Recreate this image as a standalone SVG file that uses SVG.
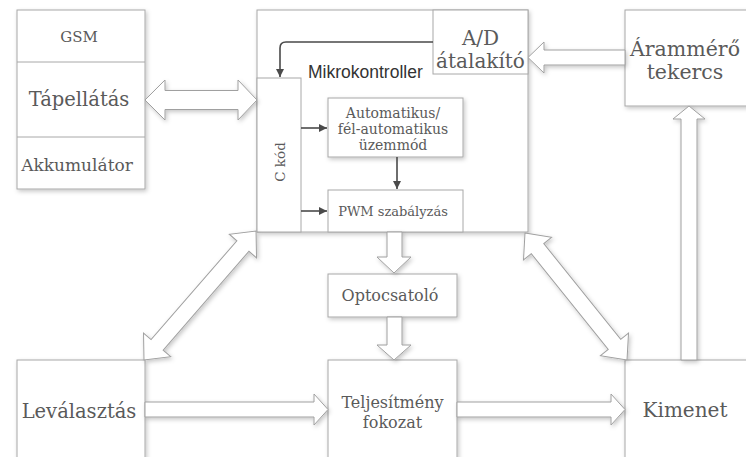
<svg xmlns="http://www.w3.org/2000/svg" width="746" height="457" viewBox="0 0 746 457">
  <style>
    .box { fill: #ffffff; stroke: #a8a8a8; stroke-width: 1; }
    .sh { filter: url(#shadow); }
    .lbl { font-family: "DejaVu Serif", "Liberation Serif", serif; fill: #5a5a5a; text-anchor: middle; }
    .sans { font-family: "Liberation Sans", Arial, sans-serif; fill: #333333; }
    .hollow { fill: #ffffff; stroke: #a0a0a0; stroke-width: 1; stroke-linejoin: miter; }
    .dark { fill: none; stroke: #4a4a4a; stroke-width: 1.6; }
  </style>
  <defs>
    <filter id="shadow" x="-10%" y="-10%" width="130%" height="130%">
      <feDropShadow dx="1.5" dy="2" stdDeviation="2" flood-color="#000000" flood-opacity="0.22"/>
    </filter>
    <marker id="tri" viewBox="0 0 10 10" refX="10" refY="5" markerWidth="8" markerHeight="8" markerUnits="userSpaceOnUse" orient="auto">
      <path d="M0,0 L10,5 L0,10 z" fill="#4a4a4a"/>
    </marker>
  </defs>

  <rect width="746" height="457" fill="#ffffff"/>

  <!-- power supply stack -->
  <g id="tapellatas">
    <rect class="box sh" x="17" y="10" width="128" height="179"/>
    <line x1="17" y1="62" x2="145" y2="62" stroke="#a8a8a8"/>
    <line x1="17" y1="137" x2="145" y2="137" stroke="#a8a8a8"/>
    <text class="lbl" x="79" y="42" font-size="15">GSM</text>
    <text class="lbl" x="79" y="106" font-size="19.5">Tápellátás</text>
    <text class="lbl" x="77" y="171" font-size="17">Akkumulátor</text>
  </g>

  <!-- microcontroller -->
  <g id="mikrokontroller">
    <rect class="box sh" x="257" y="10" width="271" height="222"/>
    <text class="sans" x="308" y="78" font-size="17.5">Mikrokontroller</text>
  </g>

  <g id="ad">
    <rect class="box" x="433" y="10" width="95" height="64"/>
    <text class="lbl" x="480.5" y="45" font-size="20">A/D</text>
    <text class="lbl" x="480.5" y="68" font-size="20">átalakító</text>
  </g>

  <g id="ckod">
    <rect class="box" x="257" y="78" width="44" height="154"/>
    <text class="lbl" x="0" y="0" font-size="13.5" transform="translate(285 162) rotate(-90)">C kód</text>
  </g>

  <g id="uzemmod">
    <rect class="box sh" x="328" y="98" width="135" height="59"/>
    <text class="lbl" x="393" y="118" font-size="14">Automatikus/</text>
    <text class="lbl" x="393" y="134" font-size="14">fél-automatikus</text>
    <text class="lbl" x="393" y="150" font-size="14">üzemmód</text>
  </g>

  <g id="pwm">
    <rect class="box" x="328" y="190" width="135" height="42"/>
    <text class="lbl" x="393" y="216" font-size="13">PWM szabályzás</text>
  </g>

  <g id="arammero">
    <rect class="box sh" x="625" y="10" width="130" height="96"/>
    <text class="lbl" x="685" y="56" font-size="20.5">Árammérő</text>
    <text class="lbl" x="685" y="79" font-size="20.5">tekercs</text>
  </g>

  <g id="optocsatolo">
    <rect class="box sh" x="328" y="274" width="129" height="43"/>
    <text class="lbl" x="390" y="301" font-size="16">Optocsatoló</text>
  </g>

  <g id="levalasztas">
    <rect class="box sh" x="17" y="360" width="128" height="100"/>
    <text class="lbl" x="79" y="418" font-size="19.5">Leválasztás</text>
  </g>

  <g id="teljesitmeny">
    <rect class="box sh" x="328" y="360" width="129" height="100"/>
    <text class="lbl" x="392.5" y="408" font-size="16">Teljesítmény</text>
    <text class="lbl" x="392.5" y="428" font-size="16">fokozat</text>
  </g>

  <g id="kimenet">
    <rect class="box sh" x="625" y="360" width="130" height="100"/>
    <text class="lbl" x="685" y="417" font-size="20">Kimenet</text>
  </g>

  <!-- connectors -->
  <g id="connectors">
    <!-- thin internal arrows -->
    <path class="dark" d="M433,42 H286 Q280,42 280,48 V77" marker-end="url(#tri)"/>
    <line class="dark" x1="301" y1="128" x2="327" y2="128" marker-end="url(#tri)"/>
    <line class="dark" x1="301" y1="211" x2="327" y2="211" marker-end="url(#tri)"/>
    <line class="dark" x1="397" y1="157" x2="397" y2="189" marker-end="url(#tri)"/>

    <!-- hollow block arrows -->
    <g class="sh">
      <!-- Tápellátás <-> Mikrokontroller -->
      <polygon class="hollow" points="145,100 165,80 165,90.5 238,90.5 238,80 257,100 238,120 238,109.5 165,109.5 165,120"/>
      <!-- Árammérő -> A/D -->
      <polygon class="hollow" points="528,57.5 544,42 544,50 625,50 625,65 544,65 544,73"/>
      <!-- Kimenet -> Árammérő -->
      <polygon class="hollow" points="689,106 705,119 697,119 697,360 681,360 681,119 673,119"/>
      <!-- Mikrokontroller -> Optocsatoló -->
      <polygon class="hollow" points="394,273 377,257 387,257 387,232 402,232 402,257 411,257"/>
      <!-- Optocsatoló -> Teljesítmény -->
      <polygon class="hollow" points="394,360 377,345 387,345 387,317 402,317 402,345 411,345"/>
      <!-- Leválasztás -> Teljesítmény -->
      <polygon class="hollow" points="328,409.5 314,394 314,402 145,402 145,417 314,417 314,425"/>
      <!-- Teljesítmény -> Kimenet -->
      <polygon class="hollow" points="625,409.5 611,394 611,402 457,402 457,417 611,417 611,425"/>
      <!-- Leválasztás <-> Mikrokontroller (diagonal) -->
      <polygon class="hollow" transform="translate(144 360) rotate(-49.04)" points="0,0 20,-18 20,-8 150.9,-8 150.9,-18 170.9,0 150.9,18 150.9,8 20,8 20,18"/>
      <!-- Mikrokontroller <-> Kimenet (diagonal) -->
      <polygon class="hollow" transform="translate(525 233) rotate(51.23)" points="0,0 20,-18 20,-8 142.9,-8 142.9,-18 162.9,0 142.9,18 142.9,8 20,8 20,18"/>
    </g>
  </g>
</svg>
